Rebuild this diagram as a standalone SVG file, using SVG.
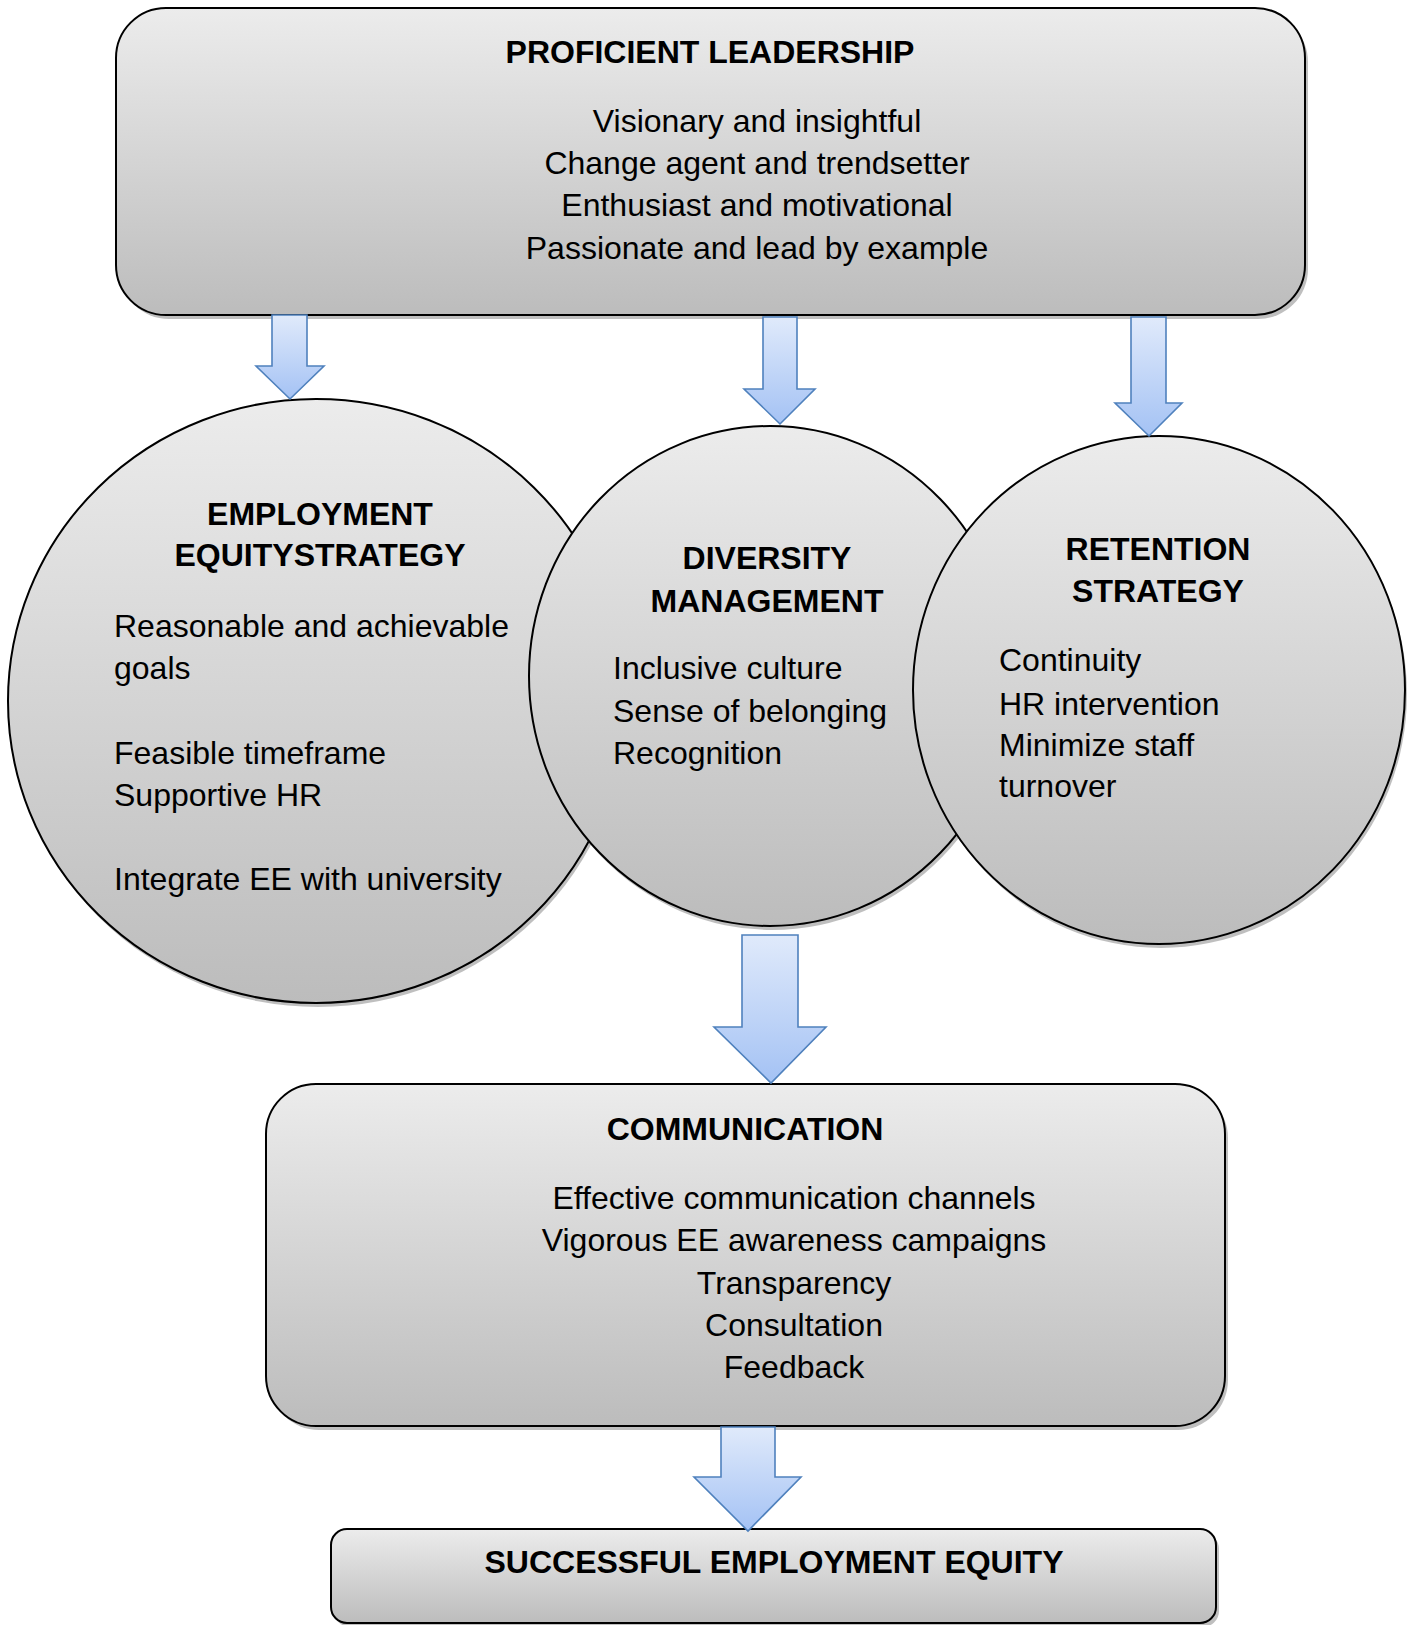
<svg xmlns="http://www.w3.org/2000/svg" width="1412" height="1625" viewBox="0 0 1412 1625">
<defs>
<linearGradient id="gray" x1="0" y1="0" x2="0" y2="1">
<stop offset="0" stop-color="#ececec"/>
<stop offset="1" stop-color="#bcbcbc"/>
</linearGradient>
<linearGradient id="blue" x1="0" y1="0" x2="0" y2="1">
<stop offset="0" stop-color="#e0eafb"/>
<stop offset="1" stop-color="#a4c2f4"/>
</linearGradient>
</defs>
<style>
.shape{fill:url(#gray);stroke:#000;stroke-width:2}
.shadow{fill:#8a8a8a;opacity:0.55}
.arrow{fill:url(#blue);stroke:#4f81bd;stroke-width:1.6;stroke-linejoin:miter}
.t{font-family:"Liberation Sans",Arial,sans-serif;font-size:32px;font-weight:bold;fill:#000;text-anchor:middle}
.b{font-family:"Liberation Sans",Arial,sans-serif;font-size:32px;fill:#000}
.c{text-anchor:middle}
</style>
<rect width="1412" height="1625" fill="#fff"/>
<g id="proficient-leadership">
<rect class="shadow" x="119" y="12" width="1189" height="307" rx="50"/>
<rect class="shape" x="116" y="8" width="1189" height="307" rx="50"/>
<text class="t" x="710" y="63">PROFICIENT LEADERSHIP</text>
<text class="b c" x="757" y="132">Visionary and insightful</text>
<text class="b c" x="757" y="174">Change agent and trendsetter</text>
<text class="b c" x="757" y="216">Enthusiast and motivational</text>
<text class="b c" x="757" y="259">Passionate and lead by example</text>
</g>
<g id="employment-equity-strategy">
<ellipse class="shadow" cx="318" cy="705" rx="308" ry="302"/>
<ellipse class="shape" cx="316" cy="701" rx="308" ry="302"/>
<text class="t" x="320" y="525">EMPLOYMENT</text>
<text class="t" x="320" y="566">EQUITYSTRATEGY</text>
<text class="b" x="114" y="637">Reasonable and achievable</text>
<text class="b" x="114" y="679">goals</text>
<text class="b" x="114" y="764">Feasible timeframe</text>
<text class="b" x="114" y="806">Supportive HR</text>
<text class="b" x="114" y="890">Integrate EE with university</text>
</g>
<g id="diversity-management">
<ellipse class="shadow" cx="772" cy="680" rx="241" ry="250"/>
<ellipse class="shape" cx="770" cy="676" rx="241" ry="250"/>
<text class="t" x="767" y="569">DIVERSITY</text>
<text class="t" x="767" y="612">MANAGEMENT</text>
<text class="b" x="613" y="679">Inclusive culture</text>
<text class="b" x="613" y="722">Sense of belonging</text>
<text class="b" x="613" y="764">Recognition</text>
</g>
<g id="retention-strategy">
<ellipse class="shadow" cx="1161" cy="694" rx="246" ry="254"/>
<ellipse class="shape" cx="1159" cy="690" rx="246" ry="254"/>
<text class="t" x="1158" y="560">RETENTION</text>
<text class="t" x="1158" y="602">STRATEGY</text>
<text class="b" x="999" y="671">Continuity</text>
<text class="b" x="999" y="715">HR intervention</text>
<text class="b" x="999" y="756">Minimize staff</text>
<text class="b" x="999" y="797">turnover</text>
</g>
<g id="communication">
<rect class="shadow" x="269" y="1088" width="959" height="342" rx="50"/>
<rect class="shape" x="266" y="1084" width="959" height="342" rx="50"/>
<text class="t" x="745" y="1140">COMMUNICATION</text>
<text class="b c" x="794" y="1209">Effective communication channels</text>
<text class="b c" x="794" y="1251">Vigorous EE awareness campaigns</text>
<text class="b c" x="794" y="1294">Transparency</text>
<text class="b c" x="794" y="1336">Consultation</text>
<text class="b c" x="794" y="1378">Feedback</text>
</g>
<g id="successful-employment-equity">
<rect class="shadow" x="334" y="1533" width="885" height="94" rx="16"/>
<rect class="shape" x="331" y="1529" width="885" height="94" rx="16"/>
<text class="t" x="774" y="1573">SUCCESSFUL EMPLOYMENT EQUITY</text>
</g>
<g id="connectors">
<polygon class="arrow" points="272,315 307,315 307,366 324,366 290,399 256,366 272,366"/>
<polygon class="arrow" points="763,317 797,317 797,389 815,389 780,424 744,389 763,389"/>
<polygon class="arrow" points="1131,317 1166,317 1166,403 1182,403 1149,436 1115,403 1131,403"/>
<polygon class="arrow" points="742,935 798,935 798,1027 826,1027 771,1083 714,1027 742,1027"/>
<polygon class="arrow" points="721,1427 775,1427 775,1477 801,1477 748,1531 694,1477 721,1477"/>
</g>
</svg>
